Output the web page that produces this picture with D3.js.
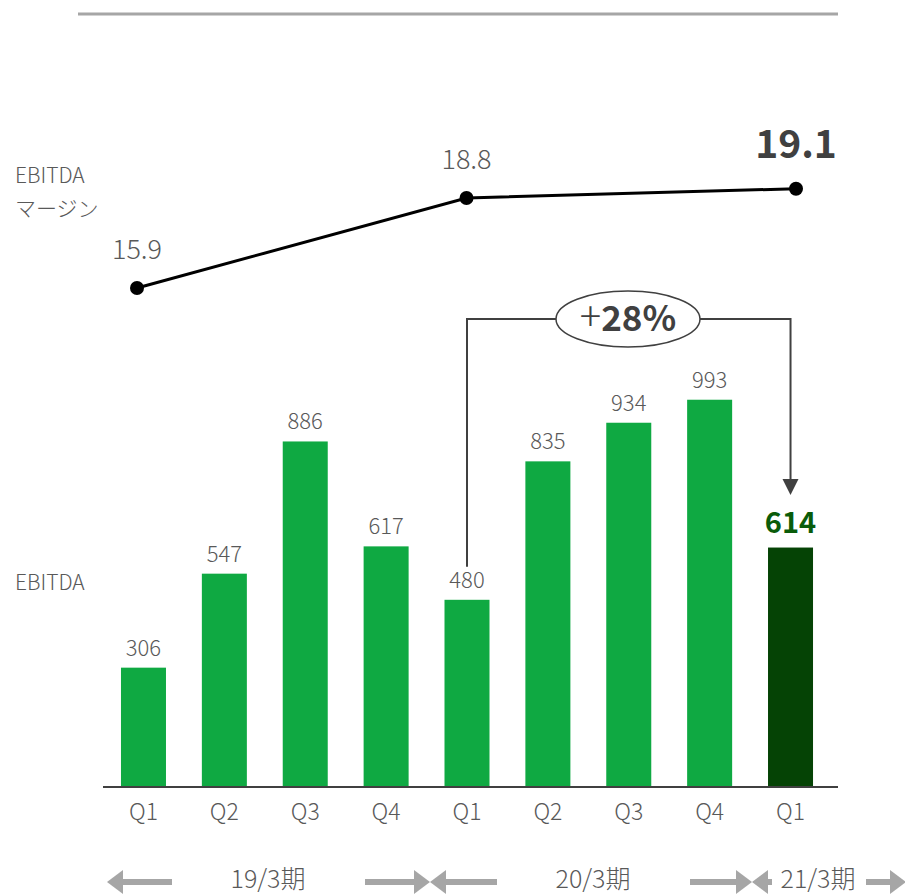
<!DOCTYPE html>
<html>
<head>
<meta charset="utf-8">
<script src="https://cdn.jsdelivr.net/npm/d3@7"></script>
<style>
  html, body { margin: 0; padding: 0; background: #fff; }
  svg { display: block; }
  text { font-family: "Noto Sans CJK JP", "Noto Sans", sans-serif; }
</style>
</head>
<body>
<div id="chart"></div>
<script>
// quarters (x axis) and EBITDA values
const quarters = ["Q1", "Q2", "Q3", "Q4", "Q1", "Q2", "Q3", "Q4", "Q1"];
const ebitda = [306, 547, 886, 617, 480, 835, 934, 993, 614];
// EBITDA margin, one per Q1
const marginLabels = ["19/3 Q1", "20/3 Q1", "21/3 Q1"];
const margins = [15.9, 18.8, 19.1];
// fiscal periods along the bottom
const periods = ["19/3期", "20/3期", "21/3期"];
const growthLabel = ["+", "28%"];

const width = 905, height = 895;

const svg = d3.select("#chart").append("svg")
    .attr("width", width)
    .attr("height", height);

// top rule
svg.append("line")
    .attr("x1", 78).attr("x2", 838)
    .attr("y1", 14).attr("y2", 14)
    .attr("stroke", "#a6a6a6")
    .attr("stroke-width", 3);

// bar scales
const x = d3.scaleBand()
    .domain(d3.range(quarters.length))
    .range([104.8, 829.2])
    .paddingInner(0.4436)
    .paddingOuter(0.2);

const y = d3.scaleLinear()
    .domain([0, 1000])
    .range([787, 397]);

const green = "#0fa942";
const darkGreen = "#054305";
const last = quarters.length - 1;

svg.selectAll(".bar")
    .data(ebitda)
    .enter()
    .append("rect")
    .attr("class", "bar")
    .attr("x", (d, i) => x(i))
    .attr("y", d => y(d))
    .attr("width", x.bandwidth())
    .attr("height", d => y(0) - y(d))
    .attr("fill", (d, i) => i === last ? darkGreen : green);

// value labels
svg.selectAll(".val")
    .data(ebitda)
    .enter()
    .append("text")
    .attr("class", "val")
    .attr("x", (d, i) => x(i) + x.bandwidth() / 2)
    .attr("y", (d, i) => y(d) - (i === last ? 15 : 12))
    .attr("text-anchor", "middle")
    .attr("fill", (d, i) => i === last ? "#0a5c0a" : "#595959")
    .attr("font-weight", (d, i) => i === last ? "bold" : 300)
    .style("font-size", (d, i) => i === last ? "29px" : "22px")
    .text(d => d);

// x axis
const xAxis = svg.append("g")
    .attr("transform", `translate(0,${y(0)})`)
    .call(d3.axisBottom(x).tickSize(0).tickPadding(17).tickFormat(i => quarters[i]));
xAxis.select(".domain")
    .attr("d", "M103,0H838")
    .attr("stroke", "#404040")
    .attr("stroke-width", 2);
xAxis.selectAll("text")
    .attr("fill", "#595959")
    .attr("font-weight", 300)
    .style("font-size", "23px")
    .style("font-family", "\"Noto Sans CJK JP\", sans-serif");

// margin line
const xm = d3.scalePoint()
    .domain(marginLabels)
    .range([137, 796]);
const ym = d3.scaleLinear()
    .domain([15.9, 18.8])
    .range([288, 198]);

svg.append("path")
    .datum(margins)
    .attr("fill", "none")
    .attr("stroke", "#000")
    .attr("stroke-width", 3)
    .attr("d", d3.line()
        .x((d, i) => xm(marginLabels[i]))
        .y(d => ym(d)));

svg.selectAll(".dot")
    .data(margins)
    .enter()
    .append("circle")
    .attr("cx", (d, i) => xm(marginLabels[i]))
    .attr("cy", d => ym(d))
    .attr("r", 7)
    .attr("fill", "#000");

svg.selectAll(".mval")
    .data(margins)
    .enter()
    .append("text")
    .attr("x", (d, i) => xm(marginLabels[i]))
    .attr("y", (d, i) => ym(d) - (i === 2 ? 31 : 29))
    .attr("text-anchor", "middle")
    .attr("fill", (d, i) => i === 2 ? "#404040" : "#595959")
    .attr("font-weight", (d, i) => i === 2 ? "bold" : 300)
    .style("font-size", (d, i) => i === 2 ? "39px" : "27px")
    .text(d => d.toFixed(1));

// side labels
const side = svg.append("g")
    .attr("fill", "#595959")
    .style("font-size", "21px")
    .attr("font-weight", 300);
side.append("text").attr("x", 15).attr("y", 183).text("EBITDA");
side.append("text").attr("x", 15).attr("y", 216).text("マージン");
side.append("text").attr("x", 15).attr("y", 590).text("EBITDA");

// growth bracket from 20/3 Q1 to 21/3 Q1
const xa = x(4) + x.bandwidth() / 2;
const xb = x(last) + x.bandwidth() / 2;
const bracketY = 319;
const arrowTip = 495;
svg.append("path")
    .attr("fill", "none")
    .attr("stroke", "#404040")
    .attr("stroke-width", 2)
    .attr("d", `M${xa},${y(ebitda[4]) - 33}V${bracketY}H${xb}V${arrowTip - 14}`);
svg.append("path")
    .attr("fill", "#404040")
    .attr("d", `M${xb - 8},${arrowTip - 16}L${xb + 8},${arrowTip - 16}L${xb},${arrowTip}Z`);

const ecx = 628;
svg.append("ellipse")
    .attr("cx", ecx).attr("cy", bracketY)
    .attr("rx", 72).attr("ry", 28)
    .attr("fill", "#fff")
    .attr("stroke", "#404040")
    .attr("stroke-width", 1.5);
const gt = svg.append("text")
    .attr("x", ecx).attr("y", bracketY + 12)
    .attr("text-anchor", "middle")
    .attr("fill", "#404040")
    .style("font-size", "35px");
gt.append("tspan").attr("font-weight", 300).style("font-size", "40px").text(growthLabel[0]);
gt.append("tspan").attr("font-weight", "bold").text(growthLabel[1]);

// period arrows along the bottom
const ay = 882;
const arrowColor = "#a6a6a6";
function arrow(x0, x1) {
    // shaft from x0 to head tip at x1
    const dir = x1 > x0 ? 1 : -1;
    const headLen = 16;
    svg.append("line")
        .attr("x1", x0).attr("x2", x1 - dir * headLen)
        .attr("y1", ay).attr("y2", ay)
        .attr("stroke", arrowColor)
        .attr("stroke-width", 6);
    svg.append("path")
        .attr("fill", arrowColor)
        .attr("d", `M${x1},${ay}L${x1 - dir * headLen},${ay - 12}L${x1 - dir * headLen},${ay + 12}Z`);
}
arrow(172, 107);
arrow(365, 430);
arrow(497, 430);
arrow(690, 752);
arrow(772, 752);
arrow(866, 906);

const periodX = [268, 593, 818];
svg.selectAll(".period")
    .data(periods)
    .enter()
    .append("text")
    .attr("x", (d, i) => periodX[i])
    .attr("y", ay + 6)
    .attr("text-anchor", "middle")
    .attr("fill", "#595959")
    .attr("font-weight", 300)
    .style("font-size", "25px")
    .text(d => d);
</script>
</body>
</html>
